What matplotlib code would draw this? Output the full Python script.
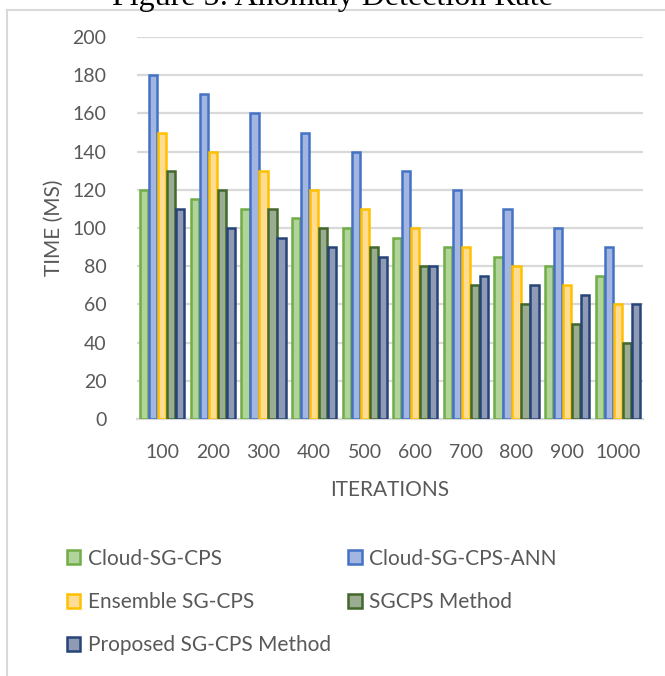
import matplotlib.pyplot as plt
import numpy as np
from matplotlib.lines import Line2D

# --- data ---
iterations = ["100", "200", "300", "400", "500", "600", "700", "800", "900", "1000"]
series_names = ["Cloud-SG-CPS", "Cloud-SG-CPS-ANN", "Ensemble SG-CPS",
                "SGCPS Method", "Proposed SG-CPS Method"]
cloud_sg_cps = [120, 115, 110, 105, 100, 95, 90, 85, 80, 75]
cloud_sg_cps_ann = [180, 170, 160, 150, 140, 130, 120, 110, 100, 90]
ensemble_sg_cps = [150, 140, 130, 120, 110, 100, 90, 80, 70, 60]
sgcps_method = [130, 120, 110, 100, 90, 80, 70, 60, 50, 40]
proposed_method = [110, 100, 95, 90, 85, 80, 75, 70, 65, 60]

edge_colors = ["#70AD47", "#4472C4", "#FFC000", "#43682B", "#264478"]
fill_colors = ["#B0D49A", "#A3B6E2", "#FFDC94", "#9AAC91", "#8F9AB4"]

plt.rcParams["font.family"] = ["Lato", "DejaVu Sans"]
text_grey = "#595959"
line_grey = "#D9D9D9"

fig = plt.figure(figsize=(6.65, 6.76), dpi=100)
ax = fig.add_axes([137 / 665, 1 - 419 / 676, (643 - 137) / 665, (419 - 37) / 676])

all_series = [cloud_sg_cps, cloud_sg_cps_ann, ensemble_sg_cps, sgcps_method, proposed_method]
x = np.arange(len(iterations))
bar_w = 0.178
handles = []
for i, vals in enumerate(all_series):
    offs = (i - 2) * bar_w
    ax.bar(x + offs, vals, width=bar_w * 0.92, color=fill_colors[i],
           edgecolor=edge_colors[i], linewidth=1.8, zorder=3)
    handles.append(plt.Rectangle((0, 0), 1, 1, facecolor=fill_colors[i],
                                 edgecolor=edge_colors[i], linewidth=1.8))

ax.set_xlim(-0.5, len(iterations) - 0.5)
ax.set_ylim(0, 200)
ax.set_yticks(np.arange(0, 201, 20))
ax.set_xticks(x)
ax.set_xticklabels(iterations)
ax.yaxis.grid(True, color=line_grey, linewidth=1.6, zorder=0)
ax.set_axisbelow(True)
for s in ["top", "right", "left"]:
    ax.spines[s].set_visible(False)
ax.spines["bottom"].set_color(line_grey)
ax.spines["bottom"].set_linewidth(1.6)
ax.tick_params(axis="both", length=0, labelsize=14, colors=text_grey)
ax.tick_params(axis="y", pad=22)
ax.tick_params(axis="x", pad=18)

ax.set_ylabel("TIME (MS)", fontsize=15, color=text_grey, labelpad=6)
ax.set_xlabel("ITERATIONS", fontsize=15, color=text_grey, labelpad=14)

# legend: two columns, row-wise order
order = [0, 2, 4, 1, 3]
fig.legend([handles[k] for k in order], [series_names[k] for k in order],
           ncol=2, loc="upper left", bbox_to_anchor=(48 / 665, 1 - 530 / 676),
           frameon=False, fontsize=15, labelcolor=text_grey,
           handlelength=0.65, handleheight=0.65, handletextpad=0.35,
           columnspacing=0.85, labelspacing=1.12)

# cut-off caption and page frame
fig.text(0.5, 1 - 5 / 676, "Figure 5: Anomaly Detection Rate", ha="center",
         va="baseline", fontsize=23, family="Liberation Serif", color="black")
fig.add_artist(Line2D([7 / 665, 1], [1 - 10 / 676, 1 - 10 / 676],
                      color=line_grey, linewidth=1.5, transform=fig.transFigure))
fig.add_artist(Line2D([7 / 665, 7 / 665], [0, 1 - 10 / 676],
                      color=line_grey, linewidth=1.5, transform=fig.transFigure))

fig.savefig("out.png", dpi=100)
